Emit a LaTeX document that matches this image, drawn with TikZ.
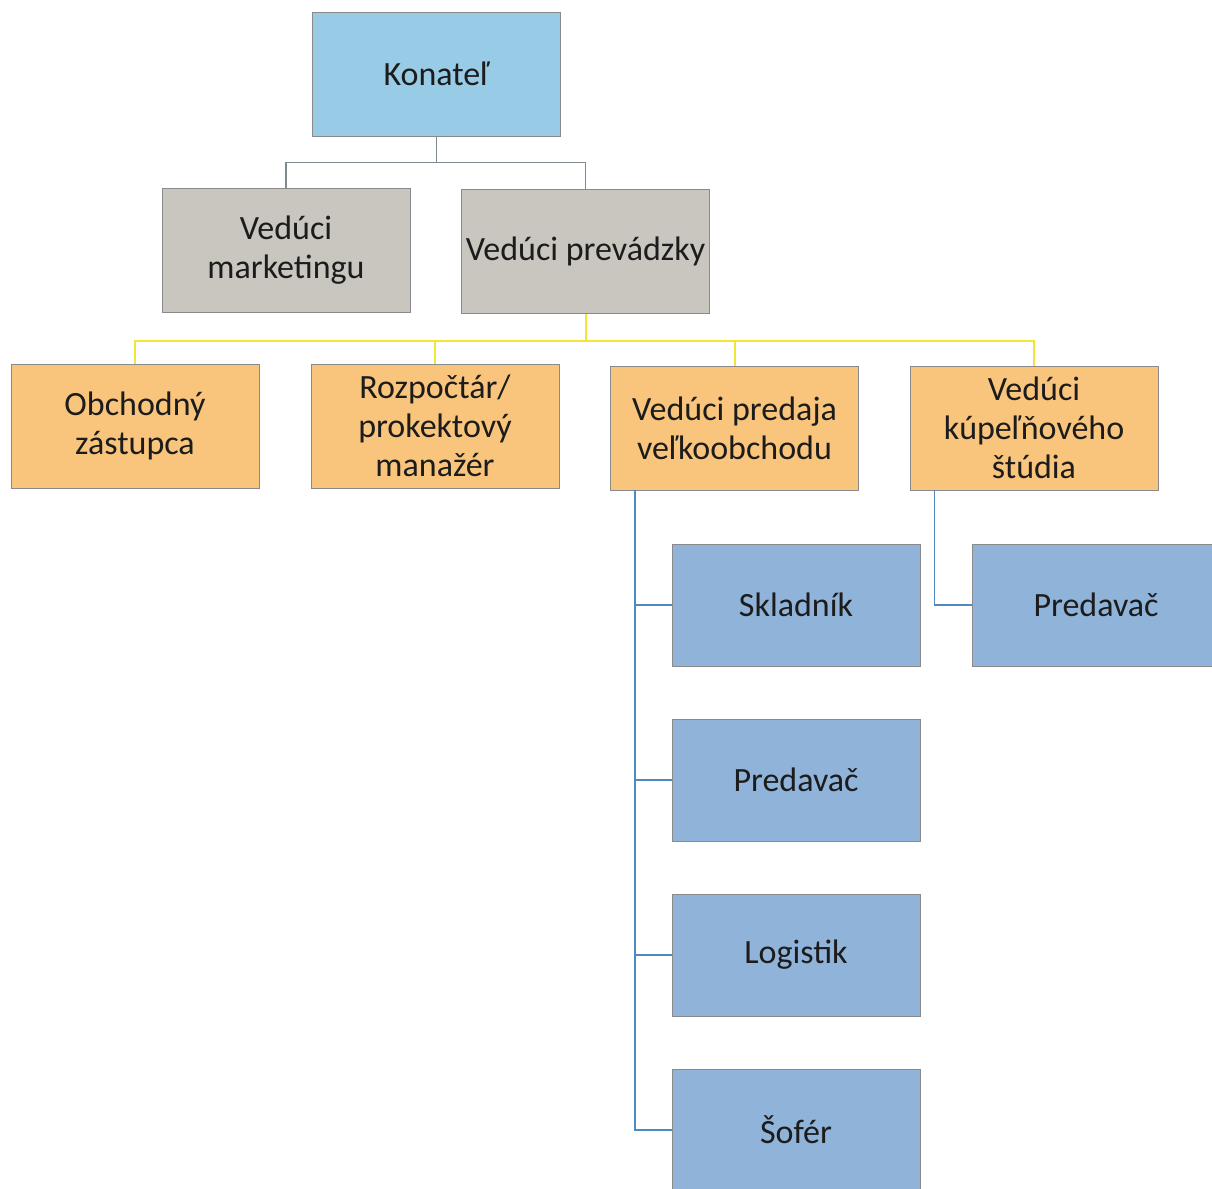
\documentclass[tikz,border=0pt]{standalone}
\usepackage{fontspec}
\setmainfont{Carlito}
\definecolor{cTop}{HTML}{98CCE6}
\definecolor{cGrey}{HTML}{C9C5BF}
\definecolor{cOrange}{HTML}{F9C57C}
\definecolor{cBlue}{HTML}{8FB3D9}
\definecolor{cEdge}{HTML}{8A8A8A}
\definecolor{lGrey}{HTML}{7E8A8E}
\definecolor{lYellow}{HTML}{F3E43C}
\definecolor{lBlue}{HTML}{4F89C2}
\definecolor{cText}{HTML}{1C1C1C}
\tikzset{
  box/.style={draw=cEdge, line width=0.8pt, minimum width=248pt, minimum height=124pt,
    inner sep=0pt, align=center, text=cText, font=\fontsize{34}{39}\selectfont},
  topbox/.style={box, fill=cTop},
  greybox/.style={box, fill=cGrey},
  orangebox/.style={box, fill=cOrange},
  bluebox/.style={box, fill=cBlue, minimum height=122pt},
  greyline/.style={draw=lGrey, line width=1.6pt},
  yellowline/.style={draw=lYellow, line width=2pt},
  blueline/.style={draw=lBlue, line width=1.6pt},
}
\begin{document}
\begin{tikzpicture}[x=1pt,y=-1pt]
\useasboundingbox (0,0) rectangle (1212,1188);
% nodes
\node[topbox] (kon) at (436.5,74) {Konateľ};
\node[greybox] (vm) at (286,250) {Vedúci\\marketingu};
\node[greybox] (vp) at (585.5,251.5) {Vedúci prevádzky};
\node[orangebox] (oz) at (135,426) {Obchodný\\zástupca};
\node[orangebox] (rp) at (435,426) {Rozpočtár/\\prokektový\\manažér};
\node[orangebox] (vpr) at (734.5,428) {Vedúci predaja\\veľkoobchodu};
\node[orangebox] (vks) at (1034,428) {Vedúci\\kúpeľňového\\štúdia};
\node[bluebox] (skl) at (796,605) {Skladník};
\node[bluebox] (pr1) at (796,780) {Predavač};
\node[bluebox] (log) at (796,955) {Logistik};
\node[bluebox] (sof) at (796,1130) {Šofér};
\node[bluebox] (pr2) at (1096,605) {Predavač};
% connectors
\coordinate (g1) at ([yshift=-26pt]kon.south);
\draw[greyline] (kon.south) -- (g1) -| (vm.north);
\draw[greyline] (g1) -| (vp.north);
\coordinate (y1) at ([yshift=-27pt]vp.south);
\draw[yellowline] (vp.south) -- (y1);
\draw[yellowline] (y1) -| (oz.north);
\draw[yellowline] (y1) -| (rp.north);
\draw[yellowline] (y1) -| (vpr.north);
\draw[yellowline] (y1) -| (vks.north);
\coordinate (b1) at ([xshift=25pt]vpr.south west);
\draw[blueline] (b1) |- (skl.west);
\draw[blueline] (b1) |- (pr1.west);
\draw[blueline] (b1) |- (log.west);
\draw[blueline] (b1) |- (sof.west);
\coordinate (b2) at ([xshift=25pt]vks.south west);
\draw[blueline] (b2) |- (pr2.west);
\end{tikzpicture}
\end{document}
